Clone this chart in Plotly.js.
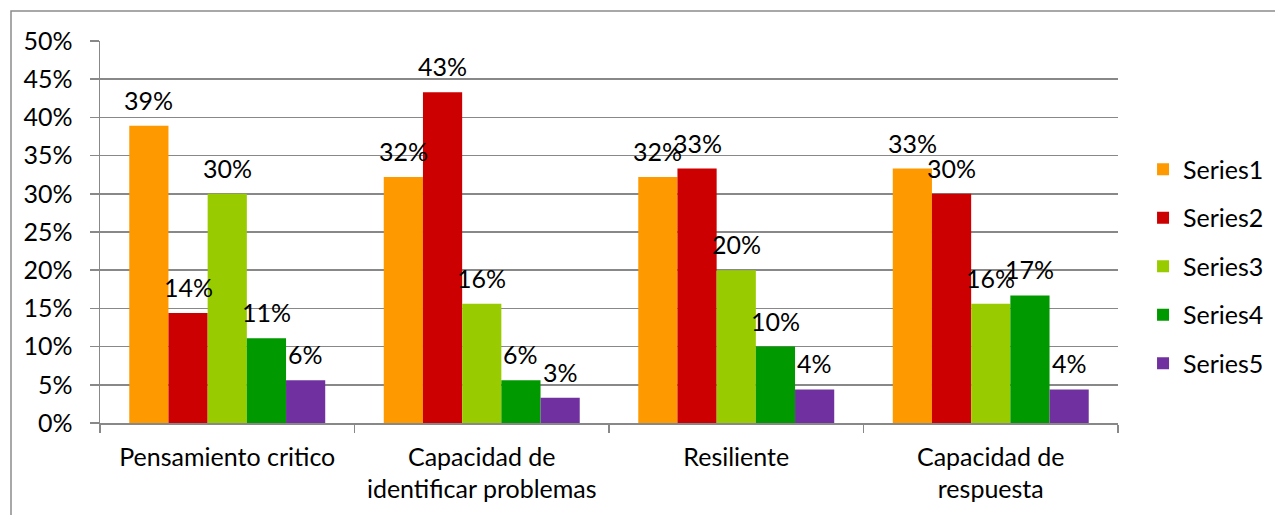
<!DOCTYPE html>
<html>
<head>
<meta charset="utf-8">
<script src="https://cdn.plot.ly/plotly-3.0.1.min.js"></script>
<style>html,body{margin:0;padding:0;background:#fff;}#chart{width:1275px;height:515px;}</style>
</head>
<body>
<div id="chart"></div>
<script>
// ---- data ----
var categories = ["Pensamiento critico", "Capacidad de<br>identificar problemas", "Resiliente", "Capacidad de<br>respuesta"];
var seriesNames = ["Series1", "Series2", "Series3", "Series4", "Series5"];
var series1 = [0.389, 0.322, 0.322, 0.333];
var series2 = [0.144, 0.433, 0.333, 0.300];
var series3 = [0.300, 0.156, 0.200, 0.156];
var series4 = [0.111, 0.056, 0.100, 0.167];
var series5 = [0.056, 0.033, 0.044, 0.044];
var yTickVals = [0, 0.05, 0.10, 0.15, 0.20, 0.25, 0.30, 0.35, 0.40, 0.45, 0.50];

// ---- style ----
var colors = ["#FF9900", "#CC0000", "#99CC00", "#009900", "#7030A0"];
var FONT = "Lato, 'Liberation Sans', sans-serif";
var FS = 25;
var W = 1275, H = 515;
var M = {l: 100, r: 157, t: 41, b: 92, autoexpand: false};
var bargap = 0.23;
var gridColor = "#888888";

var allSeries = [series1, series2, series3, series4, series5];
var traces = allSeries.map(function (vals, i) {
  return {
    type: "bar",
    name: seriesNames[i],
    x: categories,
    y: vals,
    marker: {color: colors[i], line: {width: 0}},
    legendgroup: "g" + i,
    hoverinfo: "skip"
  };
});

// data labels above each bar
var plotW = W - M.l - M.r;
var catW = plotW / categories.length;
var barW = catW * (1 - bargap) / allSeries.length;
var annotations = [];
allSeries.forEach(function (vals, i) {
  vals.forEach(function (v, j) {
    annotations.push({
      x: categories[j], xref: "x", y: v, yref: "y",
      xshift: (i - (allSeries.length - 1) / 2) * barW,
      yshift: 26,
      text: Math.round(v * 100) + "%",
      showarrow: false,
      xanchor: "center", yanchor: "middle",
      font: {family: FONT, size: FS, color: "#000"}
    });
  });
});

var pr = plotW, ph = H - M.t - M.b;
var shapes = [{
  type: "rect", xref: "paper", yref: "paper",
  x0: (11 - M.l) / pr, x1: 1.4,
  y0: -0.5, y1: (H - M.b - 11) / ph,
  line: {color: "#8c8c8c", width: 1.5}, fillcolor: "rgba(0,0,0,0)"
}];

var layout = {
  width: W, height: H,
  margin: M,
  paper_bgcolor: "#fff", plot_bgcolor: "#fff",
  font: {family: FONT, size: FS, color: "#000"},
  barmode: "group",
  bargap: bargap,
  bargroupgap: 0,
  showlegend: true,
  legend: {
    x: 1.0246, xanchor: "left",
    y: 0.41, yanchor: "middle",
    font: {family: FONT, size: FS, color: "#000"},
    tracegroupgap: 13,
    traceorder: "grouped",
    bgcolor: "rgba(0,0,0,0)"
  },
  xaxis: {
    type: "category",
    showgrid: false,
    showline: true, linecolor: gridColor, linewidth: 1.5,
    ticks: "outside", tickson: "boundaries", ticklen: 8, tickcolor: gridColor, tickwidth: 1.5,
    tickfont: {family: FONT, size: FS, color: "#000"},
    ticklabelstandoff: 11,
    fixedrange: true
  },
  yaxis: {
    range: [0, 0.5],
    tickvals: yTickVals,
    tickformat: ".0%",
    showgrid: true, gridcolor: gridColor, gridwidth: 1.5,
    showline: true, linecolor: gridColor, linewidth: 1.5,
    zeroline: false,
    ticks: "outside", ticklen: 9, tickcolor: gridColor, tickwidth: 1.5,
    tickfont: {family: FONT, size: FS, color: "#000"},
    ticklabelstandoff: 12,
    fixedrange: true
  },
  annotations: annotations,
  shapes: shapes
};

Plotly.newPlot("chart", traces, layout, {staticPlot: true, displayModeBar: false});
</script>
</body>
</html>
